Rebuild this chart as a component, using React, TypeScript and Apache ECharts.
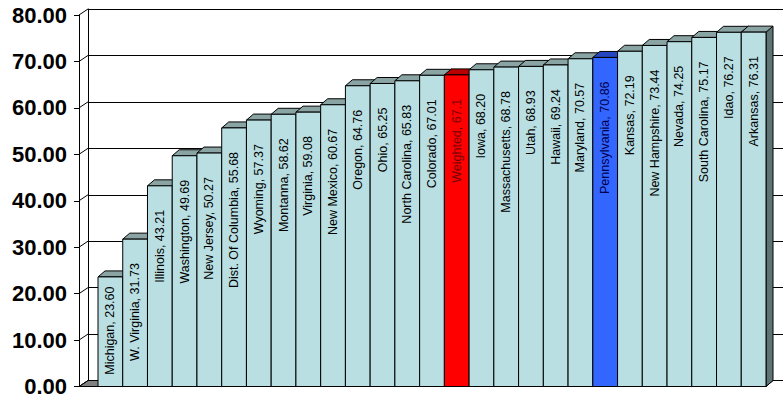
import React, { useEffect, useRef } from "react";
import * as echarts from "echarts";

// Scores by state, sorted ascending; "Weighted" is the weighted average bar.
const states = [
  "Michigan", "W. Virginia", "Illinois", "Washington", "New Jersey",
  "Dist. Of Columbia", "Wyoming", "Montanna", "Virginia", "New Mexico",
  "Oregon", "Ohio", "North Carolina", "Colorado", "Weighted", "Iowa",
  "Massachusetts", "Utah", "Hawaii", "Maryland", "Pennsylvania", "Kansas",
  "New Hampshire", "Nevada", "South Carolina", "Idao", "Arkansas",
];
const scores = [
  23.6, 31.73, 43.21, 49.69, 50.27, 55.68, 57.37, 58.62, 59.08, 60.67,
  64.76, 65.25, 65.83, 67.01, 67.1, 68.2, 68.78, 68.93, 69.24, 70.57,
  70.86, 72.19, 73.44, 74.25, 75.17, 76.27, 76.31,
];
// Decimal places shown in each bar's label
const shownDecimals = states.map((s) => (s === "Weighted" ? 1 : 2));
const yTicks = [0, 10, 20, 30, 40, 50, 60, 70, 80];

const FONT = "'Liberation Sans', Arial, Helvetica, sans-serif";

// Oblique depth of the bars and of the back wall
const BAR_DX = 7;
const BAR_DY = -6;
const WALL_DX = 9;
const WALL_DY = -6;
const AXIS_OFFSET = 19;

type Palette = { front: string; top: string; side: string; text: string };
const basePalette: Palette = { front: "#B9DFE2", top: "#8AA4A4", side: "#5E7373", text: "#000000" };
const highlight: Record<string, Palette> = {
  Weighted: { front: "#FF0000", top: "#B80000", side: "#7A0000", text: "#7A0000" },
  Pennsylvania: { front: "#3366FF", top: "#2447C0", side: "#1A2F80", text: "#000050" },
};

export default function App() {
  const ref = useRef<HTMLDivElement>(null);

  useEffect(() => {
    if (!ref.current) return;
    const chart = echarts.init(ref.current, undefined, { renderer: "svg" });

    const barData = scores.map((v, i) => [i, v]);
    const tickData = yTicks.map((t) => [0, t]);

    const option: any = {
      animation: false,
      backgroundColor: "#ffffff",
      grid: [
        { left: 98, right: 17, top: 15, bottom: 13.5, containLabel: false },
        { left: 98 - AXIS_OFFSET + WALL_DX, right: 0, top: 15 + WALL_DY, bottom: 13.5 - WALL_DY, containLabel: false },
      ],
      xAxis: [
        { type: "category", gridIndex: 0, data: states, show: false, boundaryGap: true },
        { type: "value", gridIndex: 1, show: false, min: 0, max: 1 },
      ],
      yAxis: [
        {
          type: "value",
          gridIndex: 0,
          min: 0,
          max: 80,
          interval: 10,
          offset: AXIS_OFFSET,
          axisLine: { show: true, lineStyle: { color: "#000", width: 1 } },
          axisTick: { show: true, length: 5, lineStyle: { color: "#000", width: 1 } },
          axisLabel: {
            formatter: (v: number) => v.toFixed(2),
            fontFamily: FONT,
            fontWeight: "bold",
            fontSize: 22,
            color: "#000",
            margin: 12,
          },
          splitLine: { show: false },
        },
        {
          type: "value",
          gridIndex: 1,
          min: 0,
          max: 80,
          interval: 10,
          axisLine: { show: true, lineStyle: { color: "#000", width: 1 } },
          axisTick: { show: false },
          axisLabel: { show: false },
          splitLine: { show: true, lineStyle: { color: "#000", width: 1 } },
        },
      ],
      series: [
        {
          // connectors from the front axis to the back wall, plus the floor
          type: "custom",
          xAxisIndex: 0,
          yAxisIndex: 0,
          z: 1,
          silent: true,
          data: tickData,
          renderItem: (params: any, api: any) => {
            const cs = params.coordSys;
            const t = api.value(1);
            const y = api.coord([0, t])[1];
            const ax = cs.x - AXIS_OFFSET;
            const children: any[] = [];
            if (t === 0) {
              const right = cs.x + cs.width;
              children.push({
                type: "polygon",
                shape: {
                  points: [
                    [ax, y],
                    [ax + WALL_DX, y + WALL_DY],
                    [right + BAR_DX, y + BAR_DY],
                    [right, y],
                  ],
                },
                style: { fill: "#808080", stroke: "#000", lineWidth: 1 },
              });
            }
            children.push({
              type: "line",
              shape: { x1: ax, y1: y, x2: ax + WALL_DX, y2: y + WALL_DY },
              style: { stroke: "#000", lineWidth: 1 },
            });
            return { type: "group", children };
          },
        },
        {
          type: "custom",
          xAxisIndex: 0,
          yAxisIndex: 0,
          z: 2,
          data: barData,
          renderItem: (_params: any, api: any) => {
            const i = api.value(0);
            const v = api.value(1);
            const [cx, top] = api.coord([i, v]);
            const base = api.coord([i, 0])[1];
            const w = api.size([1, 0])[0];
            const x0 = cx - w / 2;
            const x1 = cx + w / 2;
            const h = base - top;
            const pal = highlight[states[i]] || basePalette;
            const gap = Math.min(24, Math.max(7, h - 100));
            const text = `${states[i]}, ${v.toFixed(shownDecimals[i])}`;
            const stroke = { stroke: "#000", lineWidth: 1 };
            return {
              type: "group",
              children: [
                {
                  type: "polygon",
                  shape: { points: [[x1, top], [x1 + BAR_DX, top + BAR_DY], [x1 + BAR_DX, base + BAR_DY], [x1, base]] },
                  style: { fill: pal.side, ...stroke },
                },
                {
                  type: "polygon",
                  shape: { points: [[x0, top], [x0 + BAR_DX, top + BAR_DY], [x1 + BAR_DX, top + BAR_DY], [x1, top]] },
                  style: { fill: pal.top, ...stroke },
                },
                {
                  type: "rect",
                  shape: { x: x0, y: top, width: w, height: h },
                  style: { fill: pal.front, ...stroke },
                },
                {
                  type: "text",
                  x: cx,
                  y: top + gap,
                  rotation: Math.PI / 2,
                  style: {
                    text,
                    fill: pal.text,
                    font: `12.5px ${FONT}`,
                    align: "right",
                    verticalAlign: "middle",
                  },
                },
              ],
            };
          },
        },
      ],
    };

    chart.setOption(option);
    return () => chart.dispose();
  }, []);

  return (
    <div
      ref={ref}
      style={{ position: "absolute", left: 0, top: 0, width: 783, height: 400, background: "#fff" }}
    />
  );
}
